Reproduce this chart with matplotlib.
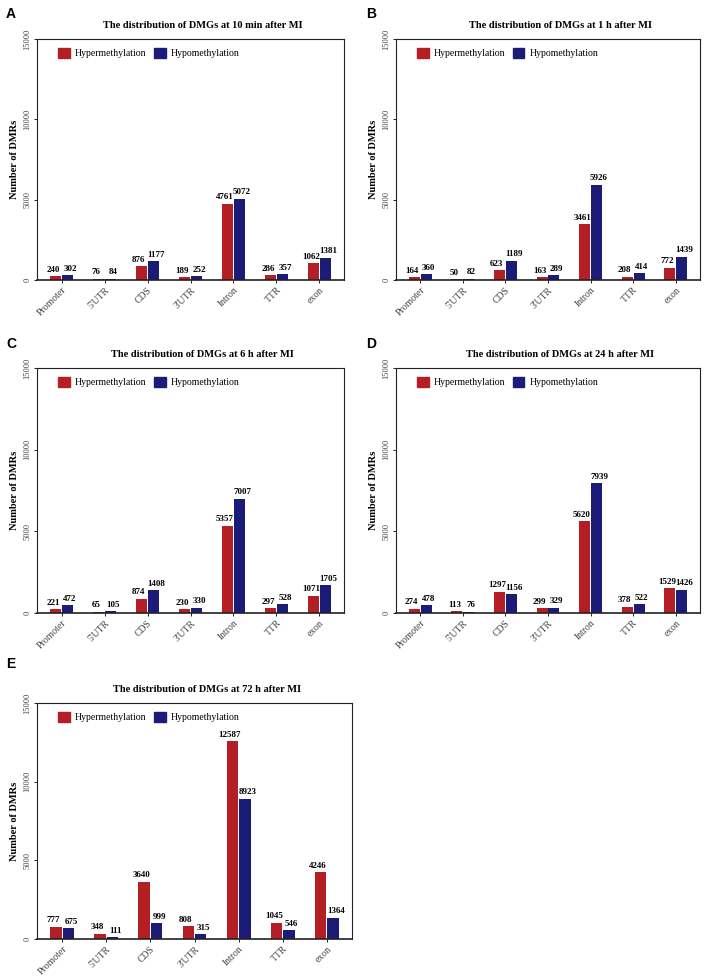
import numpy as np
import matplotlib
matplotlib.use("Agg")
import matplotlib.pyplot as plt
from matplotlib.patches import Patch

# Regioni genomiche e valori
regions = ["Promoter", "5'UTR", "CDS", "3'UTR", "Intron", "TTR", "exon"]

hyper_10min = [240, 76, 876, 189, 4761, 286, 1062]
hypo_10min = [302, 84, 1177, 252, 5072, 357, 1381]

hyper_1h = [164, 50, 623, 163, 3461, 208, 772]
hypo_1h = [360, 82, 1189, 289, 5926, 414, 1439]

hyper_6h = [221, 65, 874, 230, 5357, 297, 1071]
hypo_6h = [472, 105, 1408, 330, 7007, 528, 1705]

hyper_24h = [274, 113, 1297, 299, 5620, 378, 1529]
hypo_24h = [478, 76, 1156, 329, 7939, 522, 1426]

hyper_72h = [777, 348, 3640, 808, 12587, 1045, 4246]
hypo_72h = [675, 111, 999, 315, 8923, 546, 1364]

titles = ["10 min", "1 h", "6 h", "24 h", "72 h"]
letters = ["A", "B", "C", "D", "E"]

RED = "#B31F24"
BLUE = "#1B1B78"

plt.rcParams["font.family"] = ["Liberation Serif", "DejaVu Serif"]

W, H = 708, 976
fig = plt.figure(figsize=(W / 100, H / 100), dpi=100)

# posizioni degli assi in pixel: (sinistra, alto, destra, basso)
boxes = [
    (37, 39, 344, 280),
    (396, 39, 700, 280),
    (37, 368, 344, 613),
    (396, 368, 700, 613),
    (37, 703, 352, 939),
]
letter_pos = [(6, 14), (366, 14), (6, 344), (366, 344), (6, 664)]

data = [
    (hyper_10min, hypo_10min),
    (hyper_1h, hypo_1h),
    (hyper_6h, hypo_6h),
    (hyper_24h, hypo_24h),
    (hyper_72h, hypo_72h),
]

x = np.arange(len(regions))
bw = 0.26

for i, (hyper, hypo) in enumerate(data):
    l, t, r, b = boxes[i]
    ax = fig.add_axes([l / W, (H - b) / H, (r - l) / W, (b - t) / H])
    ax.bar(x - bw / 2 - 0.01, hyper, bw, color=RED)
    ax.bar(x + bw / 2 + 0.01, hypo, bw, color=BLUE)
    # etichette dei valori sopra le barre
    for xi, v in zip(x, hyper):
        ax.text(xi - bw / 2 - 0.07, v + 150, str(v), ha="center", va="bottom",
                fontsize=6.5, fontweight="bold")
    for xi, v in zip(x, hypo):
        ax.text(xi + bw / 2 + 0.07, v + 150, str(v), ha="center", va="bottom",
                fontsize=6.5, fontweight="bold")
    ax.set_xlim(-0.57, 6.57)
    ax.set_ylim(0, 15000)
    ax.set_yticks([0, 5000, 10000, 15000])
    ax.set_yticklabels(["0", "5000", "10000", "15000"], rotation=90,
                       va="center", fontsize=6, color="#444444")
    ax.set_xticks(x)
    ax.set_xticklabels(regions, rotation=45, ha="right", rotation_mode="anchor",
                       fontsize=7, color="#444444")
    ax.tick_params(axis="both", length=2, width=0.6, pad=2)
    ax.set_ylabel("Number of DMRs", fontsize=7.5, fontweight="bold", labelpad=3)
    ax.set_title("The distribution of DMGs at %s after MI" % titles[i],
                 fontsize=7.5, fontweight="bold", x=0.54, pad=8)
    for s in ax.spines.values():
        s.set_linewidth(0.8)
        s.set_color("#222222")
    ax.spines["bottom"].set_linewidth(1.2)
    handles = [Patch(color=RED, label="Hypermethylation"),
               Patch(color=BLUE, label="Hypomethylation")]
    ax.legend(handles=handles, loc="upper left", ncol=2, frameon=False,
              fontsize=7, handlelength=1.2, handleheight=1.2,
              columnspacing=0.8, handletextpad=0.5, bbox_to_anchor=(0.04, 1.0))
    fig.text(letter_pos[i][0] / W, 1 - letter_pos[i][1] / H, letters[i],
             fontsize=10, fontweight="bold", family="Liberation Sans",
             va="center", ha="left")

fig.savefig("out.png", dpi=100)
